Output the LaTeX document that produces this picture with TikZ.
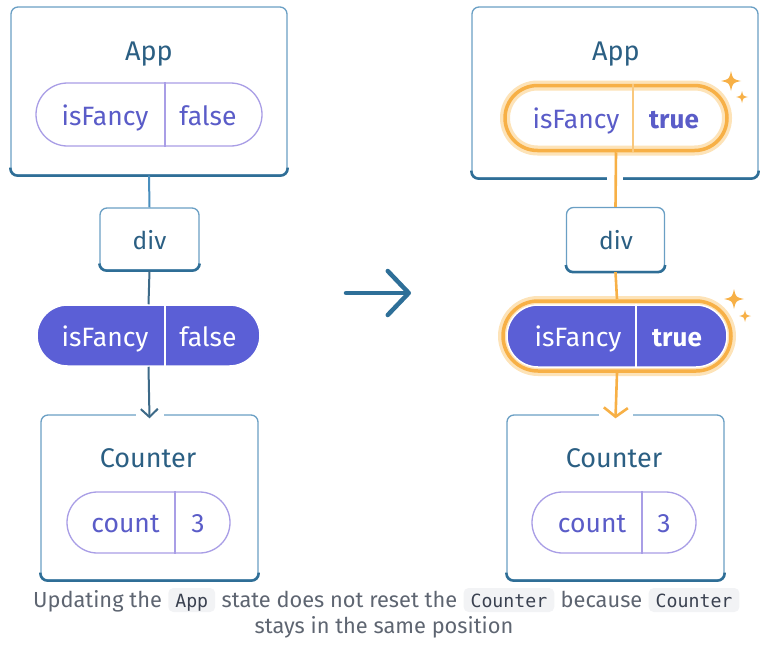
\documentclass[tikz,border=0pt]{standalone}
\usepackage{fontspec}
\setmainfont{Fira Sans}
\setmonofont{DejaVu Sans Mono}
\usetikzlibrary{arrows.meta,shapes.misc}
\definecolor{boxline}{HTML}{6A9FC4}
\definecolor{boxbottom}{HTML}{2F6E96}
\definecolor{nodetext}{HTML}{2B5F83}
\definecolor{pilline}{HTML}{A99EE6}
\definecolor{piltext}{HTML}{5A5CC8}
\definecolor{pillfill}{HTML}{5B5FD6}
\definecolor{orng}{HTML}{F7B046}
\definecolor{glow}{HTML}{FDE3B8}
\definecolor{captext}{HTML}{5E6571}
\definecolor{codebg}{HTML}{F2F3F5}
\definecolor{codetext}{HTML}{3A4150}
\definecolor{arrowblue}{HTML}{2E6F98}
\definecolor{linetop}{HTML}{4A8FBE}
\definecolor{linelow}{HTML}{3D6A88}
\newcommand\mysparkle[3]{\fill[orng] (#1,#2-#3) .. controls (#1+0.18*#3,#2-0.18*#3) .. (#1+#3,#2) .. controls (#1+0.18*#3,#2+0.18*#3) .. (#1,#2+#3) .. controls (#1-0.18*#3,#2+0.18*#3) .. (#1-#3,#2) .. controls (#1-0.18*#3,#2-0.18*#3) .. (#1,#2-#3) -- cycle;}
\begin{document}
\begin{tikzpicture}[x=1pt,y=-1pt,
  comp/.style={draw=boxline, line width=1.3pt, rounded corners=7pt, fill=white, inner sep=0pt},
  botline/.style={boxbottom, line width=2.4pt, rounded corners=7pt},
  pill/.style={rounded rectangle, draw=pilline, line width=1.3pt, fill=white, inner sep=0pt},
  pillfilled/.style={rounded rectangle, fill=pillfill, draw=white, line width=1.5pt, inner sep=0pt},
  glowring/.style={rounded rectangle, fill=white, draw=glow, line width=10pt, inner sep=0pt},
  orngring/.style={rounded rectangle, draw=orng, line width=3.5pt, inner sep=0pt},
  divider/.style={pilline, line width=1.3pt},
  wdivider/.style={white, line width=1.5pt},
  titletxt/.style={text=nodetext, font=\fontsize{27}{30}\selectfont, inner sep=0pt, anchor=base},
  divtxt/.style={text=nodetext, font=\fontsize{24.5}{28}\selectfont, inner sep=0pt, anchor=base},
  ptxt/.style={text=piltext, font=\fontsize{26.5}{30}\selectfont, inner sep=0pt, anchor=base},
  wtxt/.style={text=white, font=\fontsize{26.5}{30}\selectfont, inner sep=0pt, anchor=base},
  boldtxt/.style={font=\fontsize{26}{30}\selectfont\bfseries},
  captxt/.style={text=captext, font=\fontsize{21.8}{26}\selectfont, inner sep=0pt, anchor=base west},
  codebox/.style={text=codetext, fill=codebg, rounded corners=5pt, font=\fontsize{18.2}{20}\ttfamily, inner xsep=7pt, inner ysep=0pt, text height=19pt, text depth=5pt, anchor=base west},
  gapfill/.style={white},
]
\useasboundingbox (0,0) rectangle (768,645);

% ---------------- LEFT TREE ----------------
\node[comp, minimum width=276, minimum height=168] (appL) at (149,91) {};
\draw[botline] ([yshift=8pt]appL.south west) |- (appL.south east) -- ([yshift=8pt]appL.south east);
\node[titletxt] (appLt) at (149,60) {App};
\node[pill, minimum width=226, minimum height=63] (pL1) at (149,114.5) {};
\coordinate (dL1) at (165,0);
\draw[divider] (dL1 |- pL1.north) -- (dL1 |- pL1.south);
\node[ptxt] (pL1k) at (105,125) {isFancy};
\node[ptxt] (pL1v) at (208,125) {false};

\node[comp, minimum width=99, minimum height=62] (divL) at (149.5,239) {};
\draw[botline] ([yshift=6pt]divL.south west) |- (divL.south east) -- ([yshift=6pt]divL.south east);
\node[divtxt] (divLt) at (149.5,249) {div};

\node[pillfilled, minimum width=223, minimum height=61] (pL2) at (148.5,335.5) {};
\coordinate (dL2) at (165,0);
\draw[wdivider] (dL2 |- pL2.north) -- (dL2 |- pL2.south);
\node[wtxt] (pL2k) at (105,346) {isFancy};
\node[wtxt] (pL2v) at (208,346) {false};

\node[comp, minimum width=217, minimum height=165] (cntL) at (149.5,497.5) {};
\draw[botline] ([yshift=8pt]cntL.south west) |- (cntL.south east) -- ([yshift=8pt]cntL.south east);
\node[titletxt] (cntLt) at (148,467) {Counter};
\node[pill, minimum width=163, minimum height=61] (cpL) at (148.5,522.5) {};
\coordinate (dL3) at (175,0);
\draw[divider] (dL3 |- cpL.north) -- (dL3 |- cpL.south);
\node[ptxt] (cpLk) at (125.5,532) {count};
\node[ptxt] (cpLv) at (198,532) {3};

\draw[linetop, line width=2pt] (appL.south) -- (divL.north);
\draw[linelow, line width=2pt] (divL.south) -- (pL2.north);
\fill[gapfill] ([xshift=-14pt,yshift=2pt]cntL.north) rectangle ([xshift=14pt,yshift=-2pt]cntL.north);
\draw[linelow, line width=2pt, -{Straight Barb[length=8pt,width=17pt]}] (pL2.south) -- ([yshift=-4pt]cntL.north);

% ---------------- MIDDLE ARROW ----------------
\coordinate (ma) at (346,293);
\coordinate (mb) at (411,293);
\draw[arrowblue, line width=4.5pt, line cap=round, -{Straight Barb[length=21pt,width=44pt,round]}] (ma) -- (mb);

% ---------------- RIGHT TREE ----------------
\node[comp, minimum width=286, minimum height=171] (appR) at (615,92.5) {};
\draw[botline] ([yshift=8pt]appR.south west) |- (appR.south east) -- ([yshift=8pt]appR.south east);
\node[titletxt] (appRt) at (616,60) {App};
\node[glowring, minimum width=222, minimum height=65] (pR1g) at (616,118) {};
\node[orngring, minimum width=222, minimum height=65] (pR1) at (616,118) {};
\coordinate (dR1) at (633,0);
\draw[orng!70, line width=1.3pt] (dR1 |- pR1.north) -- (dR1 |- pR1.south);
\node[ptxt] (pR1k) at (576,128) {isFancy};
\node[ptxt, boldtxt] (pR1v) at (674,128) {true};
\mysparkle{731}{81}{10}
\mysparkle{742}{97}{6}

\node[comp, minimum width=98, minimum height=64] (divR) at (615.5,239.5) {};
\draw[botline] ([yshift=6pt]divR.south west) |- (divR.south east) -- ([yshift=6pt]divR.south east);
\node[divtxt] (divRt) at (616,249.5) {div};

\node[glowring, minimum width=228, minimum height=70] (pR2g) at (617,336) {};
\node[orngring, minimum width=228, minimum height=70] (pR2r) at (617,336) {};
\node[pillfilled, minimum width=220, minimum height=62] (pR2) at (617,336) {};
\coordinate (dR2) at (636,0);
\draw[wdivider] (dR2 |- pR2.north) -- (dR2 |- pR2.south);
\node[wtxt] (pR2k) at (578,346) {isFancy};
\node[wtxt, boldtxt] (pR2v) at (677,346) {true};
\mysparkle{734}{299}{10}
\mysparkle{745}{316}{6}

\node[comp, minimum width=217, minimum height=165] (cntR) at (615.5,497.5) {};
\draw[botline] ([yshift=8pt]cntR.south west) |- (cntR.south east) -- ([yshift=8pt]cntR.south east);
\node[titletxt] (cntRt) at (614,467) {Counter};
\node[pill, minimum width=164, minimum height=61] (cpR) at (614,522.5) {};
\coordinate (dR3) at (642,0);
\draw[divider] (dR3 |- cpR.north) -- (dR3 |- cpR.south);
\node[ptxt] (cpRk) at (592,532) {count};
\node[ptxt] (cpRv) at (664,532) {3};

\fill[gapfill] ([xshift=-8pt,yshift=3pt]appR.south) rectangle ([xshift=8pt,yshift=-3pt]appR.south);
\draw[orng, line width=2.6pt] (pR1.south) -- (divR.north);
\draw[orng, line width=2.6pt] (divR.south) -- (pR2r.north);
\fill[gapfill] ([xshift=-17pt,yshift=2pt]cntR.north) rectangle ([xshift=17pt,yshift=-2pt]cntR.north);
\draw[orng, line width=2.6pt, -{Straight Barb[length=9pt,width=24pt]}] (pR2r.south) -- ([yshift=-4pt]cntR.north);

% ---------------- CAPTION ----------------
\node[captxt] (c1) at (33,607) {Updating the};
\node[codebox] (c2) at ([xshift=6pt]c1.base east) {App};
\node[captxt] (c3) at ([xshift=6pt]c2.base east) {state does not reset the};
\node[codebox] (c4) at ([xshift=6pt]c3.base east) {Counter};
\node[captxt] (c5) at ([xshift=6pt]c4.base east) {because};
\node[codebox] (c6) at ([xshift=6pt]c5.base east) {Counter};
\node[captxt, anchor=base] (c7) at (384,633) {stays in the same position};
\end{tikzpicture}
\end{document}
